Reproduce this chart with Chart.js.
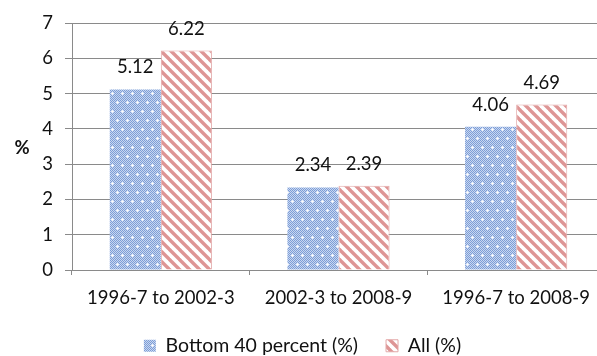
<!DOCTYPE html>
<html>
<head>
<meta charset="utf-8">
<script src="https://cdn.jsdelivr.net/npm/chart.js@4.4.1/dist/chart.umd.min.js"></script>
<style>
  html, body { margin: 0; padding: 0; background: #ffffff; overflow: hidden; }
  #wrap { position: relative; width: 628px; height: 356px; }
</style>
</head>
<body>
<div id="wrap"><canvas id="chart"></canvas></div>
<script>
// Growth periods and the two series (percent)
const periods = ['1996-7 to 2002-3', '2002-3 to 2008-9', '1996-7 to 2008-9'];
const bottom40 = [5.12, 2.34, 4.06];
const allHouseholds = [6.22, 2.39, 4.69];
const seriesNames = ['Bottom 40 percent (%)', 'All (%)'];
const yTicks = [0, 1, 2, 3, 4, 5, 6, 7];

const FONT = 'Lato, "Open Sans", sans-serif';
const FONT_SIZE = 18.5;
const LEGEND_FONT_SIZE = 19.5;

// Blue fill: fine checker with small white crosses in a staggered lattice
function dottedPattern() {
  const c = document.createElement('canvas');
  c.width = 10; c.height = 18;
  const g = c.getContext('2d');
  for (let y = 0; y < c.height; y++) {
    for (let x = 0; x < c.width; x++) {
      g.fillStyle = ((x + y) % 2 === 0) ? '#7d9dd6' : '#c8d7f1';
      g.fillRect(x, y, 1, 1);
    }
  }
  g.fillStyle = 'rgba(255,255,255,0.85)';
  [[2, 3], [7, 12]].forEach(([cx, cy]) => {
    g.fillRect(cx - 1, cy, 3, 1);
    g.fillRect(cx, cy - 1, 1, 3);
  });
  return g.createPattern(c, 'repeat');
}

// Red fill: diagonal stripes running from upper left to lower right
function stripePattern() {
  const s = 10;
  const c = document.createElement('canvas');
  c.width = s; c.height = s;
  const g = c.getContext('2d');
  g.fillStyle = '#ffffff';
  g.fillRect(0, 0, s, s);
  g.strokeStyle = '#de9595';
  g.lineWidth = 3.4;
  for (const off of [-s, 0, s]) {
    g.beginPath();
    g.moveTo(off - 1, -1);
    g.lineTo(off + s + 1, s + 1);
    g.stroke();
  }
  return g.createPattern(c, 'repeat');
}

// Value labels above each bar
const valueLabels = {
  id: 'valueLabels',
  afterDatasetsDraw(chart) {
    const ctx = chart.ctx;
    ctx.save();
    ctx.font = FONT_SIZE + 'px ' + FONT;
    ctx.fillStyle = '#111111';
    ctx.textAlign = 'center';
    ctx.textBaseline = 'middle';
    chart.data.datasets.forEach((ds, i) => {
      chart.getDatasetMeta(i).data.forEach((bar, j) => {
        ctx.fillText(ds.data[j].toFixed(2), bar.x, bar.y - 22);
      });
    });
    ctx.restore();
  }
};

// Upright "%" axis caption
const axisCaption = {
  id: 'axisCaption',
  afterDraw(chart) {
    const ctx = chart.ctx;
    const area = chart.chartArea;
    ctx.save();
    ctx.font = 'bold ' + FONT_SIZE + 'px ' + FONT;
    ctx.fillStyle = '#111111';
    ctx.textAlign = 'center';
    ctx.textBaseline = 'middle';
    ctx.fillText('%', 22, (area.top + area.bottom) / 2 + 1);
    ctx.restore();
  }
};

const ctx = document.getElementById('chart').getContext('2d');
new Chart(ctx, {
  type: 'bar',
  data: {
    labels: periods,
    datasets: [
      {
        label: seriesNames[0],
        data: bottom40,
        backgroundColor: dottedPattern(),
        borderColor: '#a9bfe6',
        borderWidth: 0
      },
      {
        label: seriesNames[1],
        data: allHouseholds,
        backgroundColor: stripePattern(),
        borderColor: '#e3a9a9',
        borderWidth: 1
      }
    ]
  },
  options: {
    responsive: true,
    maintainAspectRatio: false,
    animation: false,
    devicePixelRatio: 1,
    layout: { padding: { top: 18, right: 23, bottom: 0, left: 0 } },
    datasets: {
      bar: { categoryPercentage: 0.575, barPercentage: 1.0 }
    },
    scales: {
      x: {
        offset: true,
        afterFit(scale) { scale.height = 38; },
        grid: {
          display: true,
          offset: true,
          drawOnChartArea: false,
          drawTicks: true,
          tickLength: 5,
          color: '#8a8a8a'
        },
        border: { display: true, color: '#8a8a8a', width: 1 },
        ticks: {
          color: '#111111',
          padding: 14,
          font: { family: FONT, size: FONT_SIZE, lineHeight: 1.0 },
          maxRotation: 0,
          autoSkip: false
        }
      },
      y: {
        min: 0,
        max: 7,
        afterFit(scale) { scale.width = 72; },
        afterBuildTicks(scale) { scale.ticks = yTicks.map(v => ({ value: v })); },
        grid: {
          color: '#8a8a8a',
          lineWidth: 1,
          drawTicks: true,
          tickLength: 7
        },
        border: { display: true, color: '#8a8a8a', width: 1 },
        ticks: {
          color: '#111111',
          padding: 12,
          font: { family: FONT, size: FONT_SIZE }
        }
      }
    },
    plugins: {
      legend: {
        position: 'bottom',
        maxHeight: 48,
        labels: {
          boxWidth: 12,
          boxHeight: 12,
          padding: 28,
          color: '#111111',
          font: { family: FONT, size: LEGEND_FONT_SIZE }
        }
      },
      tooltip: { enabled: false }
    }
  },
  plugins: [valueLabels, axisCaption]
});
</script>
</body>
</html>
